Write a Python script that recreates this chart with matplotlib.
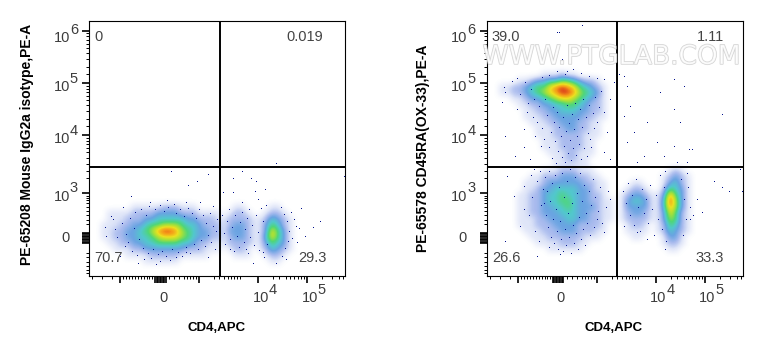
import matplotlib

matplotlib.use("Agg")
import matplotlib.patheffects as pe
import matplotlib.pyplot as plt
import numpy as np
from matplotlib.colors import LinearSegmentedColormap

plt.rcParams["font.family"] = ["Liberation Sans", "DejaVu Sans"]

W, H = 763, 356
AX_Y, AX_H = 20.5, 255.5
AX_W = 256
LEFT_X, RIGHT_X = 89.3, 486.8
N_CELLS = 43
CELL = 6  # channels per density cell

# density levels 0-9, first string is the bottom row
left_density = [
    "",
    "",
    "0000000001111110000000" + "000000" + "001100",
    "0000001111222221111100" + "001110" + "012210",
    "0000111223333333222111" + "012210" + "124321",
    "0001122334455554432211" + "122221" + "135431",
    "0011223344567776543322" + "123321" + "147531",
    "0011223345689986543322" + "133321" + "137531",
    "0011122334556665443222" + "123321" + "135421",
    "0001112223344444332221" + "122221" + "124321",
    "0001111222233332221111" + "012210" + "012210",
    "0000000111112221110000" + "001100" + "001100",
]
right_density = [
    "",
    "",
    "",
    "",
    "0000000000111111000000" + "000000" + "001100",
    "0000000011112221100000" + "000000" + "012210",
    "0000000111222222111000" + "001100" + "013310",
    "0000001112223332221100" + "011110" + "124321",
    "0000011122233332222100" + "012210" + "125421",
    "0000011122333443322110" + "122221" + "136521",
    "0000011223334443322110" + "123321" + "137521",
    "0000011223344543332110" + "133331" + "148631",
    "0000011223445543322110" + "134431" + "149631",
    "0000011223445443322100" + "123321" + "138531",
    "0000001123344443321100" + "012210" + "025431",
    "0000001112333333221100" + "001100" + "013421",
    "0000000112223332211000" + "000000" + "012321",
    "0000000001112221110000" + "000000" + "001210",
    "0000000000011111100000",
    "0000000000011221100000",
    "0000000000111221110000",
    "0000000001112222110000",
    "0000000001112222110000",
    "0000000011122222111000",
    "0000000011122332211000",
    "0000000111223332211000",
    "0000001112233333221100",
    "0000001122334443322100",
    "0000011223344554322100",
    "0000112334567765432100",
    "0011223456789986543100",
    "0011223455789875432100",
    "0000011233445543221000",
    "0000000001112110000000",
]

# single events outside the dense areas, channel coordinates
left_dots = [
    (82, 104), (119, 101), (108, 94), (99, 90), (42, 79), (187, 112), (153, 104), (144, 97), (167, 94),
    (162, 97), (134, 83), (144, 83), (166, 84), (176, 86), (169, 76), (255, 99), (256, 64), (212, 67),
    (231, 54), (224, 48), (216, 39), (207, 49), (202, 63), (16, 48), (17, 39), (24, 56), (26, 46),
    (22, 59), (34, 68), (36, 29), (28, 38), (31, 19), (49, 12), (71, 14), (87, 18), (97, 23), (119, 18),
    (61, 73), (78, 75), (97, 73), (111, 73), (124, 69), (153, 73), (160, 66), (164, 12), (187, 12),
    (197, 16), (141, 26), (157, 26), (174, 23),
    (33, 52), (37, 41), (39, 33), (41, 57), (43, 24), (45, 47), (46, 63), (48, 20), (50, 36), (52, 66),
    (54, 27), (55, 16), (57, 60), (59, 22), (60, 69), (62, 17), (64, 26), (66, 66), (67, 11), (69, 21),
    (71, 70), (73, 24), (75, 64), (77, 19), (79, 68), (81, 15), (83, 26), (85, 71), (87, 62), (89, 23),
    (91, 66), (93, 19), (95, 59), (97, 28), (99, 67), (101, 22), (103, 62), (105, 31), (107, 57),
    (109, 26), (110, 66), (112, 35), (114, 60), (116, 29), (117, 52), (119, 40), (121, 62), (122, 33),
    (124, 49), (126, 26), (127, 44), (128, 56),
    (133, 60), (135, 42), (136, 31), (138, 54), (140, 66), (141, 36), (143, 48), (145, 24), (146, 60),
    (148, 39), (150, 28), (151, 53), (153, 63), (155, 33), (156, 46), (158, 57), (159, 22), (161, 38),
    (163, 50), (165, 30), (167, 60), (169, 43), (170, 25), (172, 67), (174, 54), (175, 18), (177, 70),
    (178, 31), (192, 68), (193, 19), (195, 61), (196, 27), (198, 54), (199, 34), (200, 44), (203, 37),
    (205, 56), (208, 33), (210, 47),
]
right_dots = [
    (95, 250), (70, 243), (72, 243), (75, 216), (80, 204), (25, 194), (17, 188), (18, 183), (15, 173),
    (18, 139), (28, 119), (37, 128), (43, 116), (40, 163), (30, 166), (47, 176), (117, 196), (127, 193),
    (123, 176), (117, 163), (110, 153), (120, 143), (103, 136), (117, 123), (123, 116), (100, 119),
    (50, 153), (57, 136), (37, 146), (137, 199), (132, 201), (140, 189), (143, 169), (137, 159), (147, 143),
    (140, 133), (160, 153), (173, 183), (187, 196), (197, 189), (187, 166), (193, 153), (170, 133),
    (187, 129), (202, 126), (205, 126), (157, 119), (177, 119), (190, 113), (200, 113), (150, 113),
    (235, 161), (253, 106), (20, 99), (27, 79), (37, 66), (33, 49), (18, 34), (50, 19), (37, 89),
    (47, 106), (62, 28), (73, 21), (110, 56), (117, 43), (123, 76), (210, 76), (215, 63), (203, 56),
    (227, 94), (235, 88), (242, 84), (255, 84), (178, 26), (150, 43), (160, 36), (137, 49),
    (33, 181), (41, 172), (46, 158), (52, 169), (55, 147), (58, 176), (60, 160), (62, 128), (64, 143),
    (65, 117), (66, 168), (67, 153), (68, 134), (69, 112), (70, 163), (71, 124), (72, 148), (74, 139),
    (75, 118), (76, 158), (77, 129), (78, 113), (79, 144), (80, 170), (81, 122), (82, 152), (83, 135),
    (84, 115), (85, 161), (86, 127), (87, 146), (88, 172), (89, 120), (90, 139), (91, 156), (92, 131),
    (93, 166), (94, 116), (95, 148), (96, 176), (97, 127), (99, 158), (101, 142), (102, 170), (104, 128),
    (106, 162), (108, 178), (112, 168), (114, 184), (107, 147), (54, 129), (48, 139), (44, 186),
    (38, 193), (30, 197), (55, 198), (62, 200), (70, 204), (78, 201), (86, 206), (94, 202), (102, 199),
    (110, 197), (44, 100), (50, 94), (53, 104), (56, 86), (57, 72), (58, 98), (59, 60), (60, 84),
    (61, 48), (62, 104), (63, 74), (64, 38), (65, 92), (66, 56), (67, 32), (68, 100), (69, 66),
    (70, 44), (71, 26), (72, 88), (73, 54), (74, 36), (75, 102), (76, 24), (77, 78), (78, 46),
    (79, 30), (80, 94), (81, 62), (82, 38), (83, 106), (84, 22), (85, 72), (86, 50), (87, 32),
    (88, 98), (89, 42), (90, 82), (91, 26), (92, 58), (93, 102), (94, 36), (95, 74), (96, 46),
    (97, 90), (98, 30), (99, 62), (100, 52), (102, 84), (103, 40), (104, 70), (106, 96), (107, 48),
    (108, 78), (111, 64), (113, 88), (115, 52), (119, 68), (121, 84), (45, 78), (42, 60), (48, 44),
    (52, 34), (54, 70), (136, 84), (139, 72), (141, 92), (143, 60), (145, 80), (147, 50), (149, 96),
    (151, 68), (153, 44), (155, 86), (157, 62), (159, 76), (161, 52), (163, 90), (165, 66), (167, 40),
    (169, 80), (171, 56), (173, 100), (175, 46), (177, 88), (179, 34), (178, 104), (194, 96), (196, 40),
    (197, 76), (199, 56), (201, 88), (203, 68), (200, 102), (206, 60),
]

gate_x, gate_y = 130.3, 109.3

x_major = [31, 110, 169, 218]
x_zero = [66, 67.5, 69, 70.5, 72, 73.5, 75, 76.5]
x_minor = [3, 13, 23, 34, 37, 40, 43, 46, 49, 52, 55, 58, 60, 63, 80, 85, 90, 95, 98, 101, 104, 107,
           125, 130, 135, 139, 142, 145, 148, 151, 184, 190, 197, 201, 205, 209, 212, 215, 233, 243,
           250, 254]
y_major = [245.3, 193, 141, 83]
y_zero = [33, 34.5, 36, 37.5, 39, 40.5, 42, 43.5]
y_minor = [3, 6, 10, 14, 19, 23, 52, 56, 61, 65, 69, 73, 76, 78, 80, 98, 105, 112, 118, 124, 128, 132,
           135, 138, 150, 157, 165, 171, 176, 180, 184, 187, 190, 202, 209, 217, 223, 228, 232, 236,
           240, 243]

y_labels = ["10", "10", "10", "10"]
y_exps = ["6", "5", "4", "3"]
y_base_pos = [238.5, 188.7, 137, 79.3]
y_exp_pos = [246.5, 197, 145.3, 88]
x_exp_labels = ["4", "5"]
x_base_pos = [173.5, 222.5]

left_corners = ["0", "0.019", "70.7", "29.3"]
right_corners = ["39.0", "1.11", "26.6", "33.3"]
left_corner_x = [5, 197, 5, 209]
right_corner_x = [5, 210, 5, 209]
corner_y = [239, 239, 18, 18]

density_cmap = LinearSegmentedColormap.from_list(
    "flow",
    ["#ffffff", "#dfe5f8", "#a9bbee", "#6aa4e2", "#52c8cc", "#4fd67a", "#a4e03a", "#ece020", "#f59a18",
     "#d8301c"],
)


def to_grid(rows):
    grid = np.zeros((N_CELLS, N_CELLS))
    for r, row in enumerate(rows):
        grid[r] = [int(c) for c in row.ljust(N_CELLS, "0")]
    return grid


def draw_panel(x_px, rows, dots, corners, corners_x, ylabel_x, ylabel_y, ylabel):
    ax = fig.add_axes([x_px / W, 1 - (AX_Y + AX_H) / H, AX_W / W, AX_H / H])
    ax.imshow(
        to_grid(rows),
        origin="lower",
        extent=(0, N_CELLS * CELL, 0, N_CELLS * CELL),
        cmap=density_cmap,
        vmin=0,
        vmax=9,
        interpolation="bicubic",
        aspect="auto",
    )
    dots = np.array(dots)
    ax.plot(dots[:, 0], dots[:, 1], ",", color="#00108c")
    ax.axvline(gate_x, color="black", lw=1.4)
    ax.axhline(gate_y, color="black", lw=1.4)
    ax.set_xlim(0, AX_W)
    ax.set_ylim(0, AX_H)

    ax.set_xticks(x_major + x_zero)
    ax.set_yticks(y_major + y_zero)
    ax.set_xticks(x_minor, minor=True)
    ax.set_yticks(y_minor, minor=True)
    ax.set_xticklabels([])
    ax.set_yticklabels([])
    ax.tick_params(which="major", length=5, width=1.2)
    ax.tick_params(which="minor", length=2.5, width=0.7)
    for spine in ax.spines.values():
        spine.set_linewidth(0.8)

    for s, sx, y in zip(corners, corners_x, corner_y):
        ax.text(sx, y, s, fontsize=10.5, color="#444444", ha="left", va="center")

    grey = "#3c3c3c"
    for base, exp, yb, ye in zip(y_labels, y_exps, y_base_pos, y_exp_pos):
        ax.text(-19.5, yb, base, fontsize=10.5, color=grey, ha="right", va="center", clip_on=False)
        ax.text(-19.5, ye, exp, fontsize=10.5, color=grey, ha="left", va="center", clip_on=False)
    ax.text(-20, 38, "0", fontsize=10.5, color=grey, ha="right", va="center")
    ax.text(74, -22, "0", fontsize=10.5, color=grey, ha="center", va="center")
    for exp, xb in zip(x_exp_labels, x_base_pos):
        ax.text(xb + 6, -22, "10", fontsize=10.5, color=grey, ha="right", va="center")
        ax.text(xb + 6, -14, exp, fontsize=10.5, color=grey, ha="left", va="center")

    ax.text(127, -52, "CD4,APC", fontsize=9.5, fontweight="bold", ha="center", va="center")
    ax.text(
        ylabel_x - x_px, ylabel_y, ylabel, fontsize=10, fontweight="bold", rotation=90,
        ha="center", va="center",
    )
    return ax


fig = plt.figure(figsize=(W / 100, H / 100), dpi=100)
draw_panel(LEFT_X, left_density, left_dots, left_corners, left_corner_x,
           26.7, 131.5, "PE-65208 Mouse IgG2a isotype,PE-A")
ax2 = draw_panel(RIGHT_X, right_density, right_dots, right_corners, right_corner_x,
                 423, 128, "PE-65578 CD45RA(OX-33),PE-A")
ax2.text(
    125, 219, "WWW.PTGLAB.COM", fontsize=19, family="DejaVu Sans", color="white", alpha=0.75,
    ha="center", va="center", path_effects=[pe.withStroke(linewidth=1.0, foreground="#c4c4c4")],
)

fig.savefig("out.png", dpi=100)
